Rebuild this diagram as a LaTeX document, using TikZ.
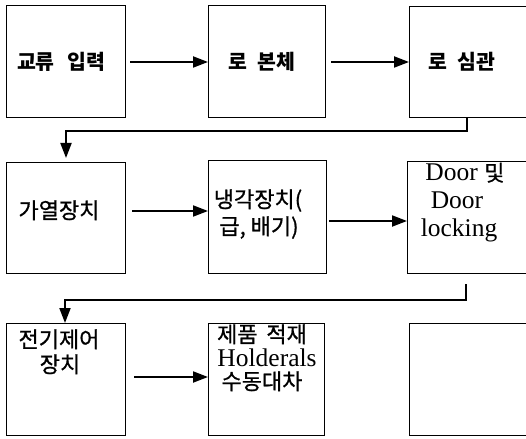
\documentclass[tikz,border=0pt]{standalone}
\usepackage{fontspec}
\setmainfont{Liberation Serif}
\newfontfamily\kr{Noto Sans CJK KR}
\newfontfamily\krm[FakeBold=0.8]{Noto Sans CJK KR}
\usetikzlibrary{arrows.meta}
\tikzset{
  box/.style={draw, line width=1.2pt, inner sep=0pt, anchor=north west},
  arr/.style={line width=2pt, -{Triangle[length=15pt,width=11pt]}},
  lbl/.style={inner sep=0pt, anchor=base},
  topfont/.style={font=\fontsize{20.5}{24}\selectfont\kr\bfseries},
  krfont/.style={font=\fontsize{22}{26}\selectfont\krm},
  enfont/.style={font=\fontsize{25.5}{28}\selectfont},
}
\begin{document}
\begin{tikzpicture}[x=1pt,y=-1pt]
\useasboundingbox (0,0) rectangle (526,438);
\clip (0,0) rectangle (526,438);
\fill[white] (0,0) rectangle (526,438);
% boxes
\node[box, minimum width=119pt, minimum height=112pt] (b1) at (6,5) {};
\node[box, minimum width=117pt, minimum height=112pt] (b2) at (208,5) {};
\node[box, minimum width=130pt, minimum height=111pt] (b3) at (409,6) {};
\node[box, minimum width=119pt, minimum height=111pt] (b4) at (6,162) {};
\node[box, minimum width=118pt, minimum height=113pt] (b5) at (208,160) {};
\node[box, minimum width=130pt, minimum height=112pt] (b6) at (407,161) {};
\node[box, minimum width=119pt, minimum height=112pt] (b7) at (6,323) {};
\node[box, minimum width=116pt, minimum height=112pt] (b8) at (208,323) {};
\node[box, minimum width=130pt, minimum height=112pt] (b9) at (409,323) {};
% labels
\node[lbl, topfont] (t1) at (61,69.5) {교류\hspace{0.6em}입력};
\node[lbl, topfont] (t2) at (262,69.5) {로\hspace{0.5em}본체};
\node[lbl, topfont] (t3) at (462,69.5) {로\hspace{0.5em}심관};
\node[lbl, krfont] (t4) at (59,218.5) {가열장치};
\node[lbl, krfont] (t5a) at (258,207.5) {냉각장치(};
\node[lbl, krfont] (t5b) at (259,234.5) {급, 배기)};
\node[lbl, enfont] (t6a) at (465,181) {Door {\krm\fontsize{22}{26}\selectfont 및}};
\node[lbl, enfont] (t6b) at (457,208) {Door};
\node[lbl, enfont] (t6c) at (459,236) {locking};
\node[lbl, krfont] (t7a) at (59,347.5) {전기제어};
\node[lbl, krfont] (t7b) at (60,372.5) {장치};
\node[lbl, krfont] (t8a) at (262,342.5) {제품\hspace{0.4em}적재};
\node[lbl, enfont] (t8b) at (267,366) {Holderals};
\node[lbl, krfont] (t8c) at (262,389.5) {수동대차};
% arrows
\draw[arr, shorten <=4pt] (b1.east |- 0,62) -- (b2.west |- 0,62);
\draw[arr, shorten <=5pt] (b2.east |- 0,62) -- (b3.west |- 0,62);
\draw[arr, shorten <=6pt] (b4.east |- 0,211) -- (b5.west |- 0,211);
\draw[arr, shorten <=2pt] (b5.east |- 0,221) -- (b6.west |- 0,221);
\draw[arr, shorten <=8pt] (b7.east |- 0,377) -- (b8.west |- 0,377);
% turn connectors
\coordinate (k1) at (467,131);
\coordinate (k1l) at (66,131);
\draw[arr, shorten >=4pt] (k1 |- b3.south) -- (k1) -- (k1l) -- (k1l |- b4.north);
\coordinate (k2) at (466,300);
\coordinate (k2l) at (65,300);
\draw[arr, shorten <=10pt] (k2 |- b6.south) -- (k2) -- (k2l) -- (k2l |- b7.north);
\end{tikzpicture}
\end{document}
